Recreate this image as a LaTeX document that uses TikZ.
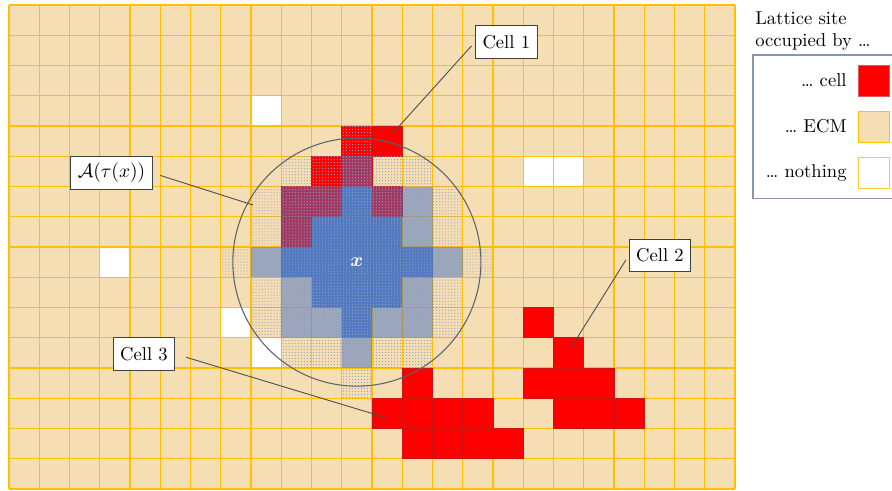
\documentclass[tikz,border=0pt]{standalone}
\usepackage{fontspec}
\usepackage{amsmath}
\definecolor{ecmwheat}{RGB}{245,222,179}
\definecolor{gridgold}{RGB}{255,192,0}
\definecolor{cellred}{RGB}{255,0,0}
\definecolor{cellrim}{RGB}{200,20,20}
\definecolor{nbblue}{RGB}{68,114,196}
\definecolor{dotgray}{RGB}{150,158,190}
\definecolor{ringgray}{RGB}{90,98,110}
\definecolor{frameblue}{RGB}{132,150,176}
\usetikzlibrary{positioning,patterns.meta}

\begin{document}
\begin{tikzpicture}[x=0.6cm, y=-0.6cm, font=\fontsize{10.5}{12.5}\selectfont,
  vacant/.style={fill=white},
  gridline/.style={draw=gridgold, line width=0.7pt},
  occ/.style={fill=cellred, draw=cellrim, line width=0.4pt},
  core/.style={fill=nbblue, fill opacity=0.92},
  halo/.style={fill=nbblue, fill opacity=0.5},
  zone/.style={pattern={Dots[radius=0.35pt, distance=1.7pt]}, pattern color=dotgray},
  callout/.style={draw=black!75, fill=white, line width=0.5pt, minimum height=18.4pt,
    inner xsep=4pt, inner ysep=0pt},
  leader/.style={draw=black!70, line width=0.5pt},
  swatch/.style={minimum size=0.615cm, inner sep=0pt, line width=0.5pt},
  legtext/.style={inner sep=0pt}]

\useasboundingbox (-0.2975,-0.165) rectangle (29.19,16.066);

% lattice: ECM everywhere, a few empty sites
\fill[ecmwheat] (0,0) rectangle (24,16);
\foreach \c/\r in {8/3,17/5,18/5,3/8,7/10,8/11}
  \fill[vacant] (\c,\r) rectangle ++(1,1);
\foreach \c in {0,...,24}
  \draw[gridline] (\c,0) -- (\c,16);
\foreach \r in {0,...,16}
  \draw[gridline] (0,\r) -- (24,\r);

% cells 1, 2 and 3
\foreach \c/\r in {11/4,12/4,10/5,11/5,9/6,10/6,12/6,9/7,
                   17/10,18/11,17/12,18/12,19/12,18/13,19/13,20/13,
                   13/12,12/13,13/13,14/13,15/13,13/14,14/14,15/14,16/14}
  \filldraw[occ] (\c,\r) rectangle ++(1,1);

% neighbourhood of x
\foreach \i in {-4,...,4}
  \foreach \j in {-4,...,4} {
    \pgfmathtruncatemacro{\dd}{\i*\i+\j*\j}
    \ifnum\dd<5 \fill[core] ({11+\i},{8+\j}) rectangle ++(1,1);
    \else\ifnum\dd<10 \fill[halo] ({11+\i},{8+\j}) rectangle ++(1,1);\fi\fi
    \ifnum\dd<17 \fill[zone] ({11+\i},{8+\j}) rectangle ++(1,1);\fi
  }

\node[text=white] (xsite) at (11.5,8.5) {$\boldsymbol{x}$};
\draw[ringgray, line width=0.6pt] (xsite) circle (4.1);

% callouts
\coordinate (tipone) at (12.684,4.241);
\coordinate (tiptwo) at (18.60,11.296);
\coordinate (tipthree) at (12.496,13.653);
\coordinate (tiparea) at (8.066,6.612);

\node[callout] (lblone) at (16.44,1.223) {Cell 1};
\node[callout] (lbltwo) at (21.52,8.28) {Cell 2};
\node[callout] (lblthree) at (4.463,11.537) {Cell 3};
\node[callout] (lblarea) at (3.388,5.554) {$\mathcal{A}(\tau(x))$};

\draw[leader, shorten <=3pt] (lblone.west) -- (tipone);
\draw[leader, shorten <=3pt] (lbltwo.west) -- (tiptwo);
\draw[leader, shorten <=6.5pt] (lblthree.east) -- (tipthree);
\draw[leader, shorten <=4.5pt] (lblarea.east) -- (tiparea);

% legend
\node[anchor=north west, align=left, inner sep=0pt] (legtitle) at (24.66,0.2)
  {Lattice site\\occupied by \dots};
\draw[frameblue, line width=0.6pt] (29.4,1.653) -- (24.595,1.653) -- (24.595,6.39) -- (29.4,6.39);

\node[swatch, fill=cellred, draw=cellrim!70] (swcell) at (28.58,2.50) {};
\node[swatch, fill=ecmwheat, draw=gridgold] (swecm) at (28.58,4.02) {};
\node[swatch, fill=white, draw=gridgold!80] (swvoid) at (28.58,5.54) {};

\node[legtext, left=6pt of swcell] (txtcell) {\dots\ cell};
\node[legtext, left=6pt of swecm] (txtecm) {\dots\ ECM};
\node[legtext, left=6pt of swvoid] (txtvoid) {\dots\ nothing};

\end{tikzpicture}
\end{document}
